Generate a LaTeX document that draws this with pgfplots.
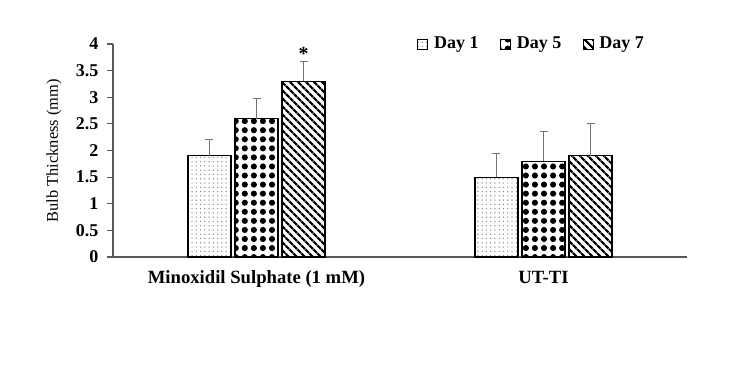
\documentclass[border=0pt]{standalone}
\usepackage{fontspec}
\setmainfont{Liberation Serif}
\usepackage{pgfplots}
\pgfplotsset{compat=1.18}
\usetikzlibrary{patterns.meta}
\begin{document}
\begin{tikzpicture}
\path[use as bounding box] (-84.75pt,-88.5pt) rectangle (477.75pt,192.75pt);
\begin{axis}[
  at={(0pt,0pt)}, anchor=south west,
  scale only axis, width=430.5pt, height=159.75pt,
  xmin=-0.5, xmax=1.5, ymin=0, ymax=4,
  axis lines=left,
  axis line style={draw=black!65, line width=1.1pt, -},
  xtick={0,1}, xticklabels={Minoxidil Sulphate (1 mM), UT-TI},
  xtick style={draw=none},
  xticklabel style={font=\bfseries\fontsize{14}{16}\selectfont, yshift=-2.5pt},
  ytick={0,0.5,1,1.5,2,2.5,3,3.5,4},
  /pgf/number format/assume math mode=true,
  yticklabel style={font=\bfseries\fontsize{13.5}{15}\selectfont, xshift=-3pt},
  ytick style={draw=black!65, line width=0.8pt},
  tick align=outside, major tick length=4.5pt,
  ylabel={Bulb Thickness (mm)},
  ylabel style={font=\fontsize{12.3}{14}\selectfont, at={(axis description cs:-0.103,0.498)}, anchor=center},
  ybar, bar width=0.15,
  error bars/error bar style={draw=black!55, line width=0.9pt},
  error bars/error mark options={rotate=90, mark size=3pt, draw=black!55, line width=0.9pt},
  legend style={at={(0.937,1)}, anchor=east, draw=none, fill=none, legend columns=3,
    font=\bfseries\fontsize{13.5}{15}\selectfont,
    /tikz/every odd column/.append style={column sep=2.5pt},
    /tikz/every even column/.append style={column sep=14pt}},
  legend image code/.code={\draw[#1, line width=0.6pt] (0pt,-3.7pt) rectangle (7.5pt,3.7pt);},
]
\addplot[draw=black, line width=0.9pt, pattern={Dots[distance=3.2pt, radius=0.55pt]}, pattern color=black!45,
  bar shift=-0.164, error bars/.cd, y dir=plus, y explicit]
  coordinates {(0,1.9) +- (0,0.3) (1,1.5) +- (0,0.45)};
\addlegendentry{Day 1}
\addplot[draw=black, line width=0.9pt, pattern={Dots[distance=6.8pt, radius=2.3pt]}, pattern color=black,
  bar shift=0, error bars/.cd, y dir=plus, y explicit]
  coordinates {(0,2.6) +- (0,0.38) (1,1.8) +- (0,0.56)};
\addlegendentry{Day 5}
\addplot[draw=black, line width=0.9pt, pattern={Lines[angle=-45, distance=4pt, line width=1.8pt]}, pattern color=black,
  bar shift=0.164, error bars/.cd, y dir=plus, y explicit]
  coordinates {(0,3.3) +- (0,0.37) (1,1.9) +- (0,0.61)};
\addlegendentry{Day 7}
\node[font=\bfseries\fontsize{15}{15}\selectfont] at (axis cs:0.164,3.82) {*};
\end{axis}
\end{tikzpicture}
\end{document}
